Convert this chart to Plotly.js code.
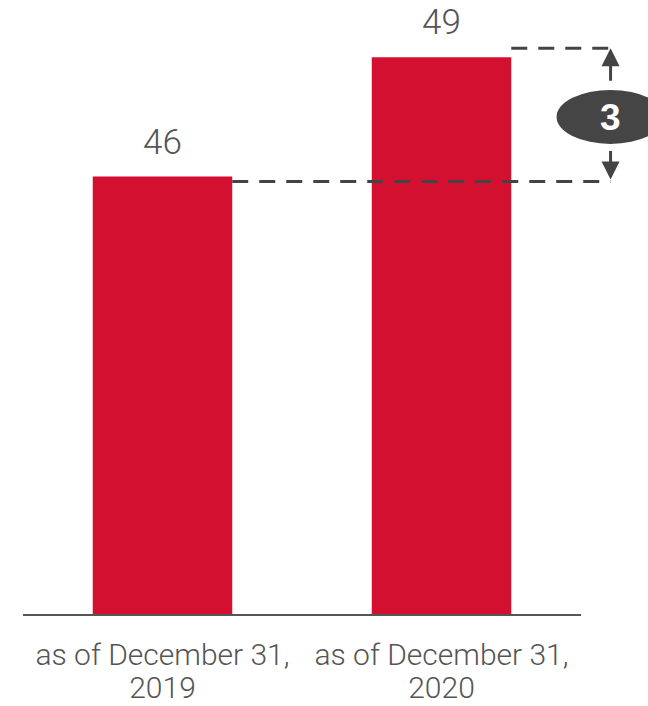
<!DOCTYPE html>
<html>
<head>
<meta charset="utf-8">
<script src="https://cdn.plot.ly/plotly-3.0.1.min.js"></script>
<style>html,body{margin:0;padding:0;background:#fff;}#chart{width:648px;height:706px;}</style>
</head>
<body>
<div id="chart"></div>
<script>
var categoryLine1 = ["as of December 31,", "as of December 31,"];
var categoryYears = ["2019", "2020"];
var values = [46, 49];
var deltaLabel = "3";

var barColor = "#D31030";
var textColor = "#555555";
var darkColor = "#444444";
var barWidth = 0.5;
var xRange = [-0.5, 1.5];
var yRange = [35, 50.44];
var arrowX = 1.053; // paper x of delta arrow

function toPaperX(v){ return (v - xRange[0]) / (xRange[1] - xRange[0]); }

var trace = {
  type: "bar",
  x: [0, 1],
  y: values,
  width: barWidth,
  marker: {color: barColor, line: {width: 0}},
  hoverinfo: "none"
};
// invisible trace to bind the second x-axis (year line of the tick labels)
var trace2 = {type: "scatter", x: [0, 1], y: values, xaxis: "x2", mode: "none", hoverinfo: "none"};

var annotations = values.map(function(v, i){
  return {x: i, y: v, xref: "x", yref: "y", text: String(v), showarrow: false,
    yanchor: "bottom", yshift: 12,
    font: {family: "Roboto", size: 35, color: textColor, weight: 300}};
});
var mid = (values[0] + values[1]) / 2;
annotations.push({xref: "paper", yref: "y", x: arrowX, y: values[1], yshift: 9, ax: 0, ay: 34,
  text: "", showarrow: true, arrowhead: 2, arrowsize: 1.2, arrowwidth: 3, arrowcolor: darkColor});
annotations.push({xref: "paper", yref: "y", x: arrowX, y: values[0], yshift: -3, ax: 0, ay: -30,
  text: "", showarrow: true, arrowhead: 2, arrowsize: 1.2, arrowwidth: 3, arrowcolor: darkColor});
annotations.push({xref: "paper", yref: "y", x: arrowX, y: mid, xanchor: "center", yanchor: "middle",
  yshift: -1, text: "<b>" + deltaLabel + "</b>", showarrow: false,
  font: {family: "Liberation Sans", size: 37, color: "#ffffff"}});

var shapes = [
  {type: "line", xref: "paper", yref: "y", x0: toPaperX(0 + barWidth/2), x1: arrowX,
   ysizemode: "pixel", yanchor: values[0], y0: -5, y1: -5,
   line: {color: darkColor, width: 3, dash: "16px,11px"}, layer: "above"},
  {type: "line", xref: "paper", yref: "y", x0: toPaperX(1 + barWidth/2), x1: arrowX,
   ysizemode: "pixel", yanchor: values[1], y0: 9, y1: 9,
   line: {color: darkColor, width: 3, dash: "16px,11px"}, layer: "above"},
  {type: "circle", xref: "paper", yref: "y", xsizemode: "pixel", ysizemode: "pixel",
   xanchor: arrowX, yanchor: mid, x0: -54, x1: 54, y0: -27, y1: 27,
   fillcolor: "#454545", line: {width: 0}, layer: "above"}
];

var tickFont = {family: "Roboto", size: 30, color: textColor, weight: 300};
var layout = {
  width: 648, height: 706,
  margin: {l: 23, r: 67, t: 0, b: 92, pad: 0},
  paper_bgcolor: "#ffffff", plot_bgcolor: "#ffffff",
  showlegend: false,
  xaxis: {range: xRange, tickmode: "array", tickvals: [0, 1], ticktext: categoryLine1,
    showline: true, linecolor: "#555555", linewidth: 2, showgrid: false, zeroline: false,
    ticks: "", ticklabelstandoff: 13, fixedrange: true, tickfont: tickFont},
  xaxis2: {overlaying: "x", side: "bottom", range: xRange, tickmode: "array", tickvals: [0, 1],
    ticktext: categoryYears, showline: false, showgrid: false, zeroline: false,
    ticks: "", ticklabelstandoff: 53, fixedrange: true, tickfont: tickFont},
  yaxis: {range: yRange, visible: false, showgrid: false, zeroline: false, fixedrange: true},
  annotations: annotations,
  shapes: shapes
};

Plotly.newPlot("chart", [trace, trace2], layout, {displayModeBar: false, staticPlot: true});
</script>
</body>
</html>
